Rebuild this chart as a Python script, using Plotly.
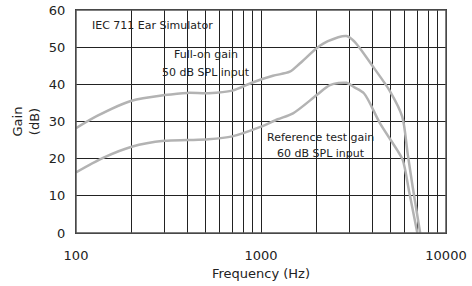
import plotly.graph_objects as go

# Full-on gain, 50 dB SPL input
freq_full = [100, 130, 200, 300, 400, 520, 700, 900, 1160, 1430, 1620, 2000, 2300, 2900, 3200, 4000, 5000, 5800, 6200, 6600, 7250]
gain_full = [28.2, 31.5, 35.6, 37.1, 37.7, 37.6, 38.3, 40.5, 42.3, 43.4, 45.6, 49.7, 51.6, 53.0, 51.5, 45.0, 38.0, 31.3, 21.5, 12.5, 0.0]

# Reference test gain, 60 dB SPL input
freq_ref = [100, 140, 200, 300, 400, 520, 700, 1000, 1230, 1490, 2000, 2360, 2900, 3200, 3600, 4400, 5450, 5840, 6340, 7000]
gain_ref = [16.3, 20.2, 23.2, 24.8, 25.0, 25.2, 26.0, 28.6, 30.6, 32.2, 37.1, 39.8, 40.4, 39.2, 37.6, 29.5, 22.3, 19.6, 10.8, 0.0]

x_ticks = [100, 200, 300, 400, 500, 600, 700, 800, 900,
           1000, 2000, 3000, 4000, 5000, 6000, 7000, 8000, 9000, 10000]
x_labels = ["100", "", "", "", "", "", "", "", "",
            "1000", "", "", "", "", "", "", "", "", "10000"]
y_ticks = [0, 10, 20, 30, 40, 50, 60]

# text labels: (log10 freq, gain, text, anchor)
labels = [
    (2.0757, 55.7, "IEC 711 Ear Simulator", "left"),
    (2.703, 47.9, "Full-on gain", "center"),
    (2.703, 43.3, "50 dB SPL input", "center"),
    (3.324, 25.8, "Reference test gain", "center"),
    (3.324, 21.5, "60 dB SPL input", "center"),
]

FONT = "DejaVu Sans"
LINE = "#b3b3b3"
GRID = "#222222"
TXT = "#222222"

fig = go.Figure()
fig.add_trace(go.Scatter(x=freq_full, y=gain_full, mode="lines",
                         line=dict(color=LINE, width=2.5, shape="spline", smoothing=0.8),
                         showlegend=False, hoverinfo="skip"))
fig.add_trace(go.Scatter(x=freq_ref, y=gain_ref, mode="lines",
                         line=dict(color=LINE, width=2.5, shape="spline", smoothing=0.8),
                         showlegend=False, hoverinfo="skip"))

for lx, ly, txt, anc in labels:
    fig.add_annotation(x=lx, y=ly, xref="x", yref="y", text=txt,
                       showarrow=False, xanchor=anc, yanchor="middle",
                       font=dict(family=FONT, size=11, color=TXT))

# plot-area frame
fig.add_shape(type="rect", xref="paper", yref="paper", x0=0, y0=0, x1=1, y1=1,
              line=dict(color="#555555", width=1.5), layer="above")

fig.update_xaxes(type="log", range=[2, 4], tickvals=x_ticks, ticktext=x_labels,
                 showgrid=True, gridcolor=GRID, gridwidth=1,
                 showline=True, linecolor=GRID, linewidth=1, mirror=True,
                 ticks="", ticklabelstandoff=10, automargin=False,
                 ticklabeloverflow="allow",
                 tickfont=dict(family=FONT, size=13, color=TXT),
                 title=dict(text="Frequency (Hz)", font=dict(family=FONT, size=13, color=TXT), standoff=7),
                 zeroline=False)
fig.update_yaxes(range=[0, 60], tickvals=y_ticks,
                 showgrid=True, gridcolor=GRID, gridwidth=1,
                 showline=True, linecolor=GRID, linewidth=1, mirror=True,
                 ticks="", ticklabelstandoff=7, automargin=False,
                 tickfont=dict(family=FONT, size=13, color=TXT),
                 title=dict(text="Gain<br>(dB)", font=dict(family=FONT, size=13, color=TXT), standoff=6),
                 zeroline=False)

fig.update_layout(width=472, height=286,
                  margin=dict(l=76, r=26, t=10, b=53),
                  paper_bgcolor="white", plot_bgcolor="white",
                  font=dict(family=FONT, color=TXT))

# remove the default page margin so the figure sits at the window's top-left
fig.write_html("out.html", config={"displayModeBar": False},
               post_script="document.body.style.margin='0';document.body.style.overflow='hidden';")
